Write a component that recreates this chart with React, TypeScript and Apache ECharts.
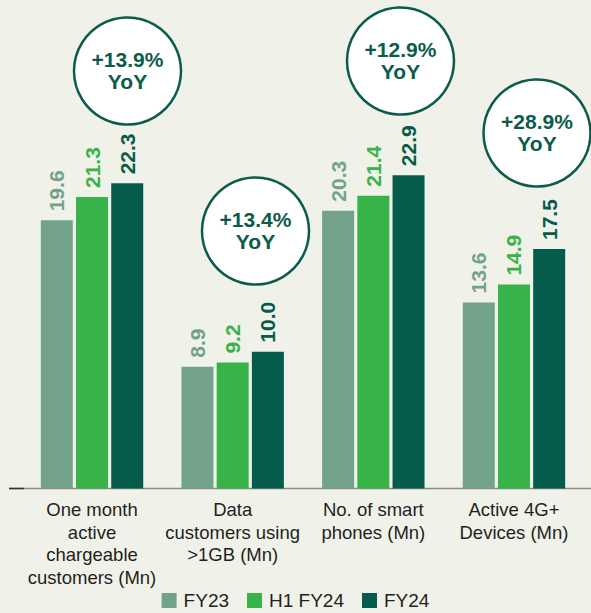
import React, { useEffect, useRef } from "react";
import * as echarts from "echarts";

const categories = [
  "One month\nactive\nchargeable\ncustomers (Mn)",
  "Data\ncustomers using\n>1GB (Mn)",
  "No. of smart\nphones (Mn)",
  "Active 4G+\nDevices (Mn)",
];
const seriesNames = ["FY23", "H1 FY24", "FY24"];
const fy23 = [19.6, 8.9, 20.3, 13.6];
const h1fy24 = [21.3, 9.2, 21.4, 14.9];
const fy24 = [22.3, 10.0, 22.9, 17.5];
const yoyLabels = ["+13.9%", "+13.4%", "+12.9%", "+28.9%"];

const colors = ["#72a38a", "#37b34a", "#055c4a"];
const BG = "#f0f1e8";
const DARK = "#0b5c4b";

const circlePos = [
  [127.5, 71],
  [255.5, 231],
  [400.5, 61],
  [537, 133],
];

export default function App() {
  const ref = useRef<HTMLDivElement>(null);
  useEffect(() => {
    if (!ref.current) return;
    const chart = echarts.init(ref.current, undefined, { renderer: "svg" });
    const dataSets = [fy23, h1fy24, fy24];
    const graphics: any[] = [
      {
        type: "line",
        shape: { x1: 9, y1: 488.5, x2: 591, y2: 488.5 },
        style: { stroke: "#8c8c84", lineWidth: 1.5 },
        z: 1,
      },
      {
        type: "line",
        shape: { x1: 9, y1: 488.5, x2: 24, y2: 488.5 },
        style: { stroke: "#333333", lineWidth: 1.5 },
        z: 2,
      },
    ];
    yoyLabels.forEach((lbl, i) => {
      const [cx, cy] = circlePos[i];
      graphics.push({
        type: "circle",
        shape: { cx, cy, r: 53.5 },
        style: { fill: "#ffffff", stroke: DARK, lineWidth: 2.5 },
        z: 10,
      });
      graphics.push({
        type: "text",
        x: cx,
        y: cy - 1,
        style: {
          text: lbl + "\nYoY",
          fill: DARK,
          fontSize: 21,
          fontWeight: "bold",
          fontFamily: "'Liberation Sans', Arial, sans-serif",
          lineHeight: 22,
          align: "center",
          verticalAlign: "middle",
        },
        z: 11,
      });
    });

    chart.setOption({
      animation: false,
      backgroundColor: BG,
      grid: { left: 21.7, right: 6.7, top: 78, bottom: 124.5, containLabel: false },
      legend: {
        data: seriesNames,
        top: 591,
        left: "center",
        icon: "rect",
        itemWidth: 15,
        itemHeight: 15,
        itemGap: 18,
        padding: 0,
        textStyle: {
          fontSize: 19,
          lineHeight: 19,
          color: "#222222",
          fontFamily: "'Liberation Sans', Arial, sans-serif",
          padding: [0, 0, 0, 2],
        },
      },
      xAxis: {
        type: "category",
        data: categories,
        axisLine: { show: false },
        axisTick: { show: false },
        axisLabel: {
          interval: 0,
          margin: 10,
          fontSize: 18.5,
          lineHeight: 22.5,
          color: "#1f1f1f",
          fontFamily: "'Liberation Sans', Arial, sans-serif",
          align: "center",
        },
      },
      yAxis: {
        type: "value",
        min: 0,
        max: 30,
        show: false,
        splitLine: { show: false },
      },
      graphic: graphics,
      series: seriesNames.map((name, i) => ({
        name,
        type: "bar",
        data: dataSets[i],
        barWidth: 32,
        barGap: "10%",
        itemStyle: { color: colors[i] },
        label: {
          show: true,
          position: "top",
          rotate: 90,
          align: "left",
          verticalAlign: "middle",
          distance: 9,
          color: colors[i],
          fontSize: 21,
          fontWeight: "bold",
          fontFamily: "'Liberation Sans', Arial, sans-serif",
          formatter: (p: any) => p.value.toFixed(1),
        },
      })),
    });
    return () => chart.dispose();
  }, []);
  return (
    <div
      ref={ref}
      style={{ position: "fixed", left: 0, top: 0, width: 591, height: 613 }}
    />
  );
}
